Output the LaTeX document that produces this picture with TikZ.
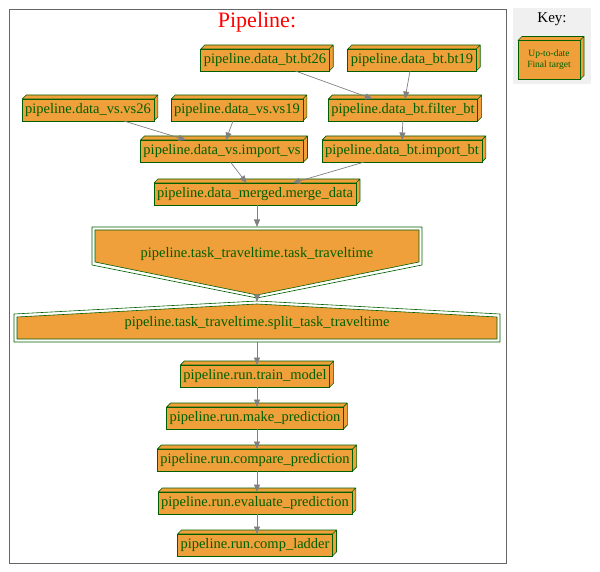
\documentclass[tikz,border=0pt]{standalone}
\usepackage{fontspec}
\setmainfont{Liberation Serif}
\usetikzlibrary{arrows.meta}

\definecolor{torange}{HTML}{EFA03B}
\definecolor{tgreen}{HTML}{006000}
\definecolor{tedge}{HTML}{808080}
\newcommand{\taskfont}{\fontsize{14.5}{16}\selectfont}

\begin{document}
\begin{tikzpicture}[
    x = 1pt, y = -1pt,
    box3d/.style = {draw = tgreen, fill = torange, text = tgreen,
      line width = .6pt, inner xsep = 3pt, inner ysep = 0pt,
      outer sep = 0pt, minimum height = 22pt, font = \taskfont,
      append after command = {\pgfextra{
        \draw[tgreen, fill = torange, line width = .6pt, line join = round]
          (\tikzlastnode.north west) -- ++(4pt,4pt)
          -| ([shift={(4pt,4pt)}]\tikzlastnode.south east)
          -- (\tikzlastnode.south east) -- (\tikzlastnode.north east) -- cycle
          (\tikzlastnode.north east) -- ++(4pt,4pt);}}},
    shapeline/.style = {draw = tgreen, line width = .6pt, line join = round},
    dep/.style = {draw = tedge, line width = .7pt,
      -{Triangle[length = 7.5pt, width = 6pt]}}]
\useasboundingbox (0,0) rectangle (600,572);

% cluster
\draw[black!60, line width = .8pt] (9,9) rectangle (506,563);
\node[text = red, font = \fontsize{22}{24}\selectfont] (title) at (257,22) {Pipeline:};

% key
\fill[black!6] (513,8) rectangle (591,84);
\node[font = \fontsize{15}{17}\selectfont] (keytitle) at (552,19) {Key:};
\node[box3d, font = \fontsize{9.5}{11}\selectfont, align = center,
  minimum width = 62pt, minimum height = 39pt] (key) at (549,60)
  {Up-to-date\\Final target};

% data tasks
\node[box3d] (bt26) at (265,60) {pipeline.data\_bt.bt26};
\node[box3d] (bt19) at (412,60) {pipeline.data\_bt.bt19};
\node[box3d] (vs26) at (88,110) {pipeline.data\_vs.vs26};
\node[box3d] (vs19) at (237,110) {pipeline.data\_vs.vs19};
\node[box3d] (filter) at (403,110) {pipeline.data\_bt.filter\_bt};
\node[box3d] (importvs) at (222,151) {pipeline.data\_vs.import\_vs};
\node[box3d] (importbt) at (402,151) {pipeline.data\_bt.import\_bt};
\node[box3d] (merge) at (255,194) {pipeline.data\_merged.merge\_data};

% task_traveltime (inverted house, double border)
\draw[shapeline] (92,227) -- (422,227) -- (422,265) -- (257,298) -- (92,265) -- cycle;
\filldraw[shapeline, fill = torange] (95,230) -- (419,230) -- (419,262)
  -- (257,295) -- (95,262) -- cycle;
\node[text = tgreen, font = \taskfont] (task) at (257,254)
  {pipeline.task\_traveltime.task\_traveltime};
\coordinate (tasktop) at (257,227);
\coordinate (tasktip) at (257,295);

% split_task_traveltime (house, double border)
\draw[shapeline] (14,342) -- (14,314) -- (257,301) -- (500,314) -- (500,342) -- cycle;
\filldraw[shapeline, fill = torange] (17,339) -- (17,317) -- (257,304)
  -- (497,317) -- (497,339) -- cycle;
\node[text = tgreen, font = \taskfont] (split) at (257,323)
  {pipeline.task\_traveltime.split\_task\_traveltime};
\coordinate (splittop) at (257,302);
\coordinate (splitbot) at (257,342);

% run tasks
\node[box3d] (train) at (255,376) {pipeline.run.train\_model};
\node[box3d] (predict) at (255,418) {pipeline.run.make\_prediction};
\node[box3d] (compare) at (255,460) {pipeline.run.compare\_prediction};
\node[box3d] (evaluate) at (255,503) {pipeline.run.evaluate\_prediction};
\node[box3d] (ladder) at (255,545) {pipeline.run.comp\_ladder};

% dependencies
\draw[dep] (bt26) -- (filter);
\draw[dep] (bt19) -- (filter);
\draw[dep] (vs26) -- (importvs);
\draw[dep] (vs19) -- (importvs);
\draw[dep] (filter) -- (importbt);
\draw[dep] (importvs) -- (merge);
\draw[dep] (importbt) -- (merge);
\draw[dep] ([xshift=2pt]merge.south) -- (tasktop);
\draw[dep] (tasktip) -- (splittop);
\draw[dep] (splitbot) -- ([xshift=2pt]train.north);
\draw[dep] ([xshift=2pt]train.south) -- ([xshift=2pt]predict.north);
\draw[dep] ([xshift=2pt]predict.south) -- ([xshift=2pt]compare.north);
\draw[dep] ([xshift=2pt]compare.south) -- ([xshift=2pt]evaluate.north);
\draw[dep] ([xshift=2pt]evaluate.south) -- ([xshift=2pt]ladder.north);
\end{tikzpicture}
\end{document}
